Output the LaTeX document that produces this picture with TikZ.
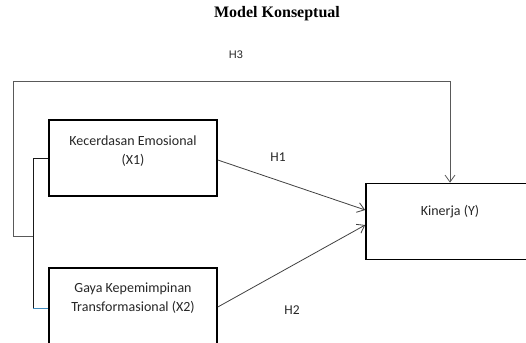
\documentclass[tikz,border=0pt]{standalone}
\usepackage{fontspec}
\setmainfont{Carlito}
\newfontfamily\titlefont{Liberation Serif}
\newfontfamily\hfont{Liberation Sans}
\usetikzlibrary{arrows.meta}
\begin{document}
\begin{tikzpicture}[x=1pt,y=-1pt,
  box/.style={draw=black,line width=1.6pt,minimum width=168pt,minimum height=76pt,inner sep=0pt},
  txt/.style={align=center,font=\fontsize{14}{19}\selectfont,text=black!85},
  hyp/.style={font=\fontsize{13.5}{16}\selectfont,text=black!85},
  link/.style={draw=black!75,line width=0.8pt,-{Straight Barb[length=7pt,width=10pt]}}]
\useasboundingbox (0,0) rectangle (526,342);
\clip (0,0) rectangle (526,342);

\node[font=\titlefont\bfseries\fontsize{16}{18}\selectfont] (title) at (277,14) {Model Konseptual};

\node[box] (x1) at (133,158) {};
\node[txt] (x1t) at ([yshift=6.5]x1.center) {Kecerdasan Emosional\\(X1)};
\node[box] (x2) at (133,306) {};
\node[txt] (x2t) at ([yshift=8]x2.center) {Gaya Kepemimpinan\\Transformasional (X2)};
\node[box] (kin) at (450,221.5) {};
\node[txt] (kint) at ([yshift=9.5]kin.center) {Kinerja (Y)};

% bracket of X1 and X2
\coordinate (j) at (33,236);
\coordinate (h3c) at (13,81);
\draw[black!90,line width=0.8pt] (x1.west) -- (33,158) -- (33,308);
\draw[blue!40!cyan!50!gray,line width=0.8pt] (33,308) -- (x2.west |- 0,308);

% H3 path
\draw[link,draw=black!65] (j) -| (h3c) -| (kin.north);
\node[font=\hfont\fontsize{11}{13}\selectfont,text=black!85] (h3) at (236,55) {H3};

\draw[link] ([yshift=-2]x1.east) -- ([yshift=11.5]kin.west);
\draw[link] ([yshift=-1]x2.east) -- ([yshift=-3.5]kin.west);
\node[hyp] (h1) at (278,157) {H1};
\node[hyp] (h2) at (292,310) {H2};
\end{tikzpicture}
\end{document}
